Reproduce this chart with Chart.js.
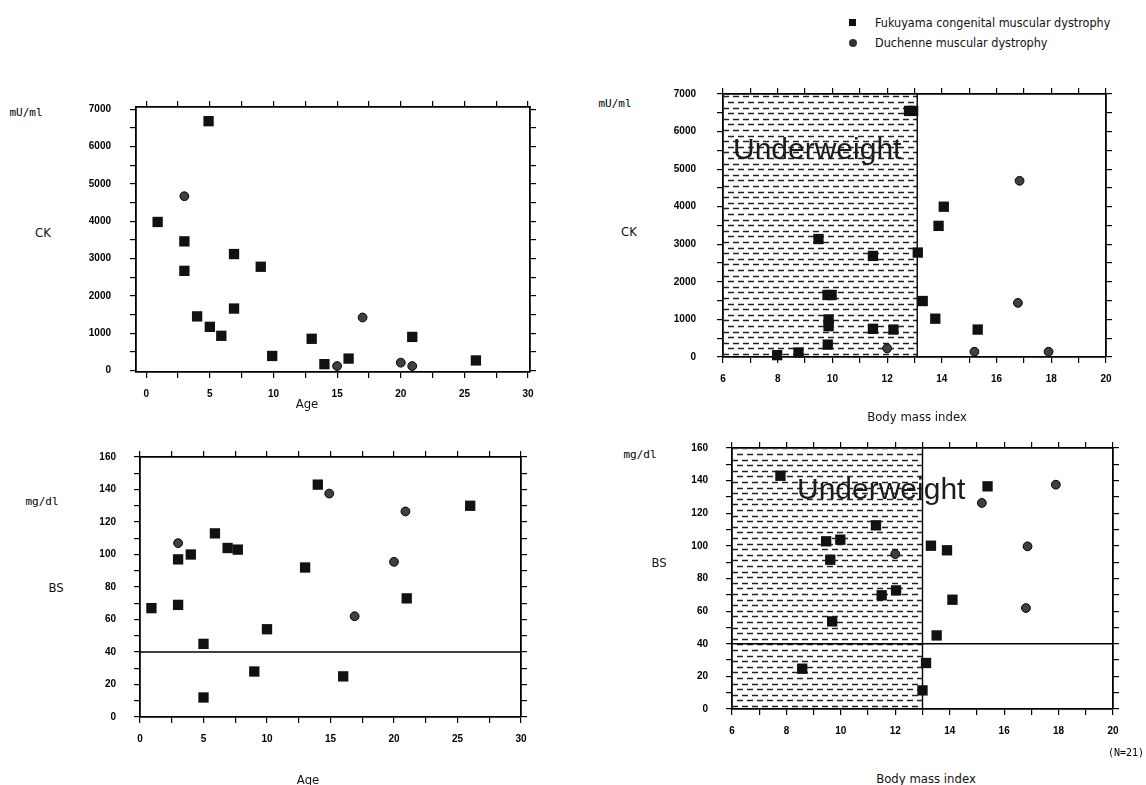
<!DOCTYPE html>
<html>
<head>
<meta charset="utf-8">
<script src="https://cdn.jsdelivr.net/npm/chart.js@4.4.1/dist/chart.umd.min.js"></script>
<style>
  body { margin: 0; background: #fff; }
  #page { position: relative; width: 1146px; height: 785px; overflow: hidden; background: #fff; }
  canvas { position: absolute; }
  .lbl { position: absolute; white-space: nowrap; color: #111; line-height: 1;
         font-family: 'DejaVu Sans Condensed', 'Liberation Sans', sans-serif; font-size: 13px;
         transform: translate(-50%, -50%); }
  .unit { font-family: 'DejaVu Sans Mono', monospace; font-size: 11px; color: #000; }
  .key { position: absolute; white-space: nowrap; color: #111; line-height: 1;
         font-family: 'DejaVu Sans Condensed', 'Liberation Sans', sans-serif; font-size: 12.5px;
         transform: translateY(-50%); }
  .uw { position: absolute; white-space: nowrap; color: #1c1c1c;
        font-family: 'Liberation Sans', Arial, sans-serif; font-size: 30px; line-height: 30px; }
</style>
</head>
<body>
<div id="page">
  <canvas id="ckAge"></canvas>
  <canvas id="ckBmi"></canvas>
  <canvas id="bsAge"></canvas>
  <canvas id="bsBmi"></canvas>

  <div style="position:absolute;left:849px;top:19px;width:7px;height:7px;background:#111"></div>
  <div class="key" style="left:875px;top:23px">Fukuyama congenital muscular dystrophy</div>
  <div style="position:absolute;left:849px;top:39px;width:8px;height:8px;border-radius:50%;background:#333"></div>
  <div class="key" style="left:875px;top:43px">Duchenne muscular dystrophy</div>

  <div class="lbl unit" style="left:26px;top:112px">mU/ml</div>
  <div class="lbl" style="left:43px;top:232px">CK</div>
  <div class="lbl" style="left:307px;top:403px">Age</div>

  <div class="lbl unit" style="left:615px;top:103px">mU/ml</div>
  <div class="lbl" style="left:629px;top:231px">CK</div>
  <div class="lbl" style="left:917px;top:416px">Body mass index</div>
  <div class="uw" style="left:733px;top:134px">Underweight</div>

  <div class="lbl unit" style="left:42px;top:501px">mg/dl</div>
  <div class="lbl" style="left:56px;top:587px">BS</div>
  <div class="lbl" style="left:308px;top:779px">Age</div>

  <div class="lbl unit" style="left:640px;top:454px">mg/dl</div>
  <div class="lbl" style="left:659px;top:562px">BS</div>
  <div class="lbl" style="left:926px;top:778px">Body mass index</div>
  <div class="uw" style="left:797px;top:474px">Underweight</div>
  <div class="lbl unit" style="left:1126px;top:753px;font-size:10px">(N=21)</div>
</div>
<script>
// CK by age
const ckAgeFcmd = [0.9, 4.9, 3.0, 3.0, 6.9, 9.0, 6.9, 4.0, 5.0, 5.9, 9.9, 13.0, 14.0, 15.9, 20.9, 25.9];
const ckFcmdByAge = [3980, 6680, 3460, 2670, 3120, 2780, 1660, 1450, 1170, 930, 390, 850, 170, 320, 900, 270];
const ckAgeDmd = [3.0, 17.0, 15.0, 20.0, 20.9];
const ckDmdByAge = [4670, 1420, 120, 210, 120];

// CK by body mass index
const ckBmiFcmd = [12.8, 12.95, 9.49, 11.48, 13.12, 14.07, 13.88, 9.82, 9.97, 13.3, 13.76, 15.31, 9.86, 9.86, 11.48, 12.23, 9.83, 7.98, 8.76];
const ckFcmdByBmi = [6550, 6550, 3140, 2690, 2780, 4000, 3490, 1650, 1650, 1490, 1020, 730, 1000, 820, 750, 730, 330, 50, 120];
const ckBmiDmd = [16.84, 16.78, 12.0, 15.19, 17.9];
const ckDmdByBmi = [4690, 1440, 230, 140, 140];

// blood sugar by age
const bsAgeFcmd = [0.9, 3.0, 3.0, 4.0, 5.0, 5.0, 5.9, 6.9, 7.7, 9.0, 10.0, 13.0, 14.0, 16.0, 21.0, 26.0];
const bsFcmdByAge = [67, 97, 69, 100, 45, 12, 113, 104, 103, 28, 54, 92, 143, 25, 73, 130];
const bsAgeDmd = [3.0, 14.9, 20.9, 20.0, 16.9];
const bsDmdByAge = [107, 137.5, 126.5, 95.5, 62];

// blood sugar by body mass index
const bsBmiFcmd = [7.78, 8.58, 9.46, 9.98, 9.61, 9.68, 11.29, 11.5, 12.03, 13.13, 13.0, 13.31, 13.9, 13.52, 14.1, 15.39];
const bsFcmdByBmi = [143, 24.7, 102.8, 103.8, 91.5, 53.7, 112.6, 69.7, 72.7, 28.2, 11.4, 100.1, 97.3, 45.1, 67, 136.5];
const bsBmiDmd = [12.0, 15.18, 17.9, 16.86, 16.8];
const bsDmdByBmi = [95, 126.3, 137.5, 99.7, 61.9];

// tick positions
const ageTicks = [0, 2.5, 5, 7.5, 10, 12.5, 15, 17.5, 20, 22.5, 25, 27.5, 30];
const bmiTicks = [6, 7, 8, 9, 10, 11, 12, 13, 14, 15, 16, 17, 18, 19, 20];
const ckTicks = [0, 500, 1000, 1500, 2000, 2500, 3000, 3500, 4000, 4500, 5000, 5500, 6000, 6500, 7000];
const bsTicks = [0, 10, 20, 30, 40, 50, 60, 70, 80, 90, 100, 110, 120, 130, 140, 150, 160];

const bsLowLimit = 40;
const underweightCk = 13.1;
const underweightBs = 13;

// room around each plot area, wide enough that label padding never moves it
const PAD_L = 70, PAD_R = 24, PAD_T = 32, PAD_B = 40;
const tickFont = { family: "'Liberation Sans', Arial, sans-serif", size: 10, weight: 'bold' };

function axis(position, range, ticks, labelStep, padding) {
  const horizontal = position === 'top' || position === 'bottom';
  const labelled = position === 'bottom' || position === 'left';
  return {
    type: 'linear',
    position,
    min: range[0],
    max: range[1],
    afterBuildTicks: s => { s.ticks = ticks.map(v => ({ value: v })); },
    afterFit: s => {
      if (horizontal) s.height = position === 'bottom' ? PAD_B : PAD_T;
      else s.width = position === 'left' ? PAD_L : PAD_R;
    },
    grid: { display: true, drawOnChartArea: false, drawTicks: true, tickLength: 6, color: '#000', lineWidth: 1.2 },
    border: { display: true, color: '#000', width: 1.8 },
    ticks: {
      display: labelled,
      autoSkip: false,
      maxRotation: 0,
      padding: padding || 0,
      color: '#000',
      font: tickFont,
      callback: v => (Math.abs(v / labelStep - Math.round(v / labelStep)) < 1e-6 ? String(v) : '')
    }
  };
}

function squares(xs, ys) {
  return {
    data: xs.map((x, i) => ({ x, y: ys[i] })),
    pointStyle: 'rect', pointRadius: 7.3, pointHoverRadius: 7.3,
    backgroundColor: '#111', borderColor: '#111', borderWidth: 0, clip: false
  };
}

function dots(xs, ys) {
  return {
    data: xs.map((x, i) => ({ x, y: ys[i] })),
    pointStyle: 'circle', pointRadius: 4.4, pointHoverRadius: 4.4,
    backgroundColor: '#404040', borderColor: '#000', borderWidth: 1, clip: false
  };
}

// hatched underweight zone, cut-off line and the 40 mg/dl level
const zones = {
  id: 'zones',
  beforeDatasetsDraw(chart, args, opts) {
    const { ctx, chartArea: a, scales: { x, y } } = chart;
    ctx.save();
    if (opts.hatchTo != null) {
      const xr = x.getPixelForValue(opts.hatchTo);
      ctx.save();
      ctx.beginPath();
      ctx.rect(a.left + 1, a.top + 1, xr - a.left - 1, a.bottom - a.top - 2);
      ctx.clip();
      ctx.strokeStyle = '#222';
      ctx.lineWidth = 1.4;
      ctx.setLineDash([6, 4]);
      let row = 0;
      for (let py = a.bottom - 3; py > a.top; py -= 5.6, row++) {
        ctx.lineDashOffset = row % 2 ? 5 : 0;
        ctx.beginPath();
        ctx.moveTo(a.left, Math.round(py) + 0.5);
        ctx.lineTo(xr, Math.round(py) + 0.5);
        ctx.stroke();
      }
      ctx.restore();
      ctx.strokeStyle = '#000';
      ctx.lineWidth = 1.4;
      ctx.beginPath();
      ctx.moveTo(xr, a.top);
      ctx.lineTo(xr, a.bottom);
      ctx.stroke();
    }
    if (opts.levelAt != null) {
      const py = y.getPixelForValue(opts.levelAt);
      ctx.strokeStyle = '#000';
      ctx.lineWidth = 1.3;
      ctx.beginPath();
      ctx.moveTo(a.left, py);
      ctx.lineTo(a.right, py);
      ctx.stroke();
    }
    ctx.restore();
  }
};

function makeChart(id, box, xr, yr, xt, yt, xStep, yStep, yPad, datasets, zoneOpts) {
  const cv = document.getElementById(id);
  cv.width = box.r - box.l + PAD_L + PAD_R;
  cv.height = box.b - box.t + PAD_T + PAD_B;
  cv.style.left = (box.l - PAD_L) + 'px';
  cv.style.top = (box.t - PAD_T) + 'px';
  return new Chart(cv, {
    type: 'scatter',
    data: { datasets },
    plugins: [zones],
    options: {
      responsive: false,
      animation: false,
      layout: { padding: 0 },
      scales: {
        x: axis('bottom', xr, xt, xStep, 10),
        x2: axis('top', xr, xt, xStep),
        y: axis('left', yr, yt, yStep, yPad),
        y2: axis('right', yr, yt, yStep)
      },
      plugins: {
        legend: { display: false },
        tooltip: { enabled: false },
        zones: zoneOpts
      }
    }
  });
}

makeChart('ckAge', { l: 136, t: 107, r: 530, b: 372 }, [-0.8, 30.15], [-40, 7060], ageTicks, ckTicks, 5, 1000, 19,
  [squares(ckAgeFcmd, ckFcmdByAge), dots(ckAgeDmd, ckDmdByAge)], {});

makeChart('ckBmi', { l: 723, t: 94, r: 1106, b: 357 }, [6, 20], [0, 7000], bmiTicks, ckTicks, 2, 1000, 21,
  [squares(ckBmiFcmd, ckFcmdByBmi), dots(ckBmiDmd, ckDmdByBmi)], { hatchTo: underweightCk });

makeChart('bsAge', { l: 140, t: 457, r: 521, b: 717 }, [0, 30], [0, 160], ageTicks, bsTicks, 5, 20, 18,
  [squares(bsAgeFcmd, bsFcmdByAge), dots(bsAgeDmd, bsDmdByAge)], { levelAt: bsLowLimit });

makeChart('bsBmi', { l: 732, t: 448, r: 1113, b: 709 }, [6, 20], [0, 160], bmiTicks, bsTicks, 2, 20, 18,
  [squares(bsBmiFcmd, bsFcmdByBmi), dots(bsBmiDmd, bsDmdByBmi)], { hatchTo: underweightBs, levelAt: bsLowLimit });
</script>
</body>
</html>
